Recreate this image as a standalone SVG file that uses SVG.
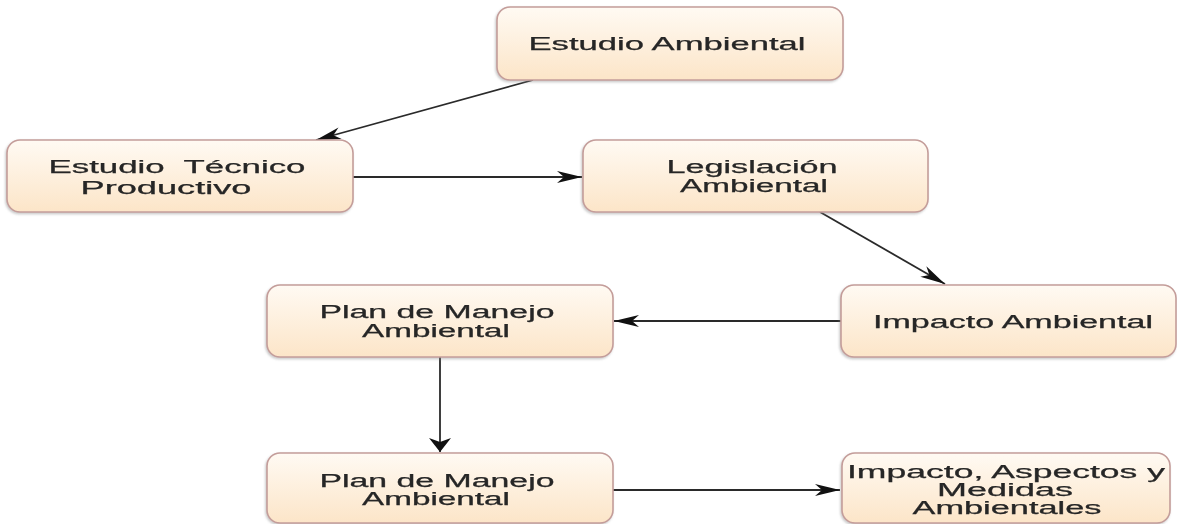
<svg xmlns="http://www.w3.org/2000/svg" width="1177" height="524" viewBox="0 0 1177 524">
<style>
.box{fill:url(#g);stroke:#c49d9a;stroke-width:1.6}
.t{font-family:"Liberation Sans",Arial,sans-serif;font-size:17.5px;fill:#262626;stroke:#262626;stroke-width:0.25;text-anchor:middle;white-space:pre}
.c{stroke:#2a2a2a;stroke-width:1.8;fill:none}
</style>
<defs>
<linearGradient id="g" x1="0" y1="0" x2="0" y2="1">
<stop offset="0" stop-color="#fffaf3"/>
<stop offset="1" stop-color="#fce5c8"/>
</linearGradient>
<filter id="sh" x="-5%" y="-10%" width="110%" height="130%">
<feDropShadow dx="-1" dy="1.5" stdDeviation="1.2" flood-color="#888" flood-opacity="0.45"/>
</filter>
<marker id="ah" markerUnits="userSpaceOnUse" viewBox="0 -7 26 14" refX="25" refY="0" markerWidth="26" markerHeight="14" orient="auto" overflow="visible">
<path d="M0,-6 L25,0 L0,6 L7,0 Z" fill="#111"/>
</marker>
<marker id="av" markerUnits="userSpaceOnUse" viewBox="0 -12 15 24" refX="14" refY="0" markerWidth="15" markerHeight="24" orient="auto" overflow="visible">
<path d="M0,-11 L14,0 L0,11 L4,0 Z" fill="#111"/>
</marker>
</defs>
<rect width="1177" height="524" fill="#fff"/>
<g id="connectors">
<line class="c" x1="533" y1="80" x2="316" y2="140" marker-end="url(#ah)"/>
<line class="c" x1="353" y1="177" x2="582" y2="177" marker-end="url(#ah)"/>
<line class="c" x1="820" y1="212" x2="945" y2="284" marker-end="url(#ah)"/>
<line class="c" x1="841" y1="321" x2="614" y2="321" marker-end="url(#ah)"/>
<line class="c" x1="440" y1="357" x2="440" y2="452" stroke-width="2.8" marker-end="url(#av)"/>
<line class="c" x1="613" y1="490" x2="840" y2="490" marker-end="url(#ah)"/>
</g>
<g id="n1" filter="url(#sh)">
<rect class="box" x="497" y="7" width="346" height="73" rx="13"/>
<text class="t" x="667" y="50" textLength="277" lengthAdjust="spacingAndGlyphs">Estudio Ambiental</text>
</g>
<g id="n2" filter="url(#sh)">
<rect class="box" x="7" y="140" width="346" height="72" rx="13"/>
<text class="t" x="177" y="173" textLength="257" lengthAdjust="spacingAndGlyphs">Estudio  Técnico</text>
<text class="t" x="166" y="194" textLength="171" lengthAdjust="spacingAndGlyphs">Productivo</text>
</g>
<g id="n3" filter="url(#sh)">
<rect class="box" x="583" y="140" width="345" height="72" rx="13"/>
<text class="t" x="752" y="173" textLength="171" lengthAdjust="spacingAndGlyphs">Legislación</text>
<text class="t" x="754" y="192" textLength="148" lengthAdjust="spacingAndGlyphs">Ambiental</text>
</g>
<g id="n4" filter="url(#sh)">
<rect class="box" x="267" y="285" width="346" height="72" rx="13"/>
<text class="t" x="437" y="318" textLength="235" lengthAdjust="spacingAndGlyphs">Plan de Manejo</text>
<text class="t" x="436" y="337" textLength="148" lengthAdjust="spacingAndGlyphs">Ambiental</text>
</g>
<g id="n5" filter="url(#sh)">
<rect class="box" x="841" y="285" width="335" height="72" rx="13"/>
<text class="t" x="1013" y="328" textLength="280" lengthAdjust="spacingAndGlyphs">Impacto Ambiental</text>
</g>
<g id="n6" filter="url(#sh)">
<rect class="box" x="267" y="453" width="346" height="70" rx="13"/>
<text class="t" x="437" y="487" textLength="235" lengthAdjust="spacingAndGlyphs">Plan de Manejo</text>
<text class="t" x="436" y="505" textLength="148" lengthAdjust="spacingAndGlyphs">Ambiental</text>
</g>
<g id="n7" filter="url(#sh)">
<rect class="box" x="842" y="453" width="328" height="70" rx="13"/>
<text class="t" x="1006" y="478" textLength="318" lengthAdjust="spacingAndGlyphs">Impacto, Aspectos y</text>
<text class="t" x="1005" y="496" textLength="136" lengthAdjust="spacingAndGlyphs">Medidas</text>
<text class="t" x="1007" y="514" textLength="189" lengthAdjust="spacingAndGlyphs">Ambientales</text>
</g>
</svg>
